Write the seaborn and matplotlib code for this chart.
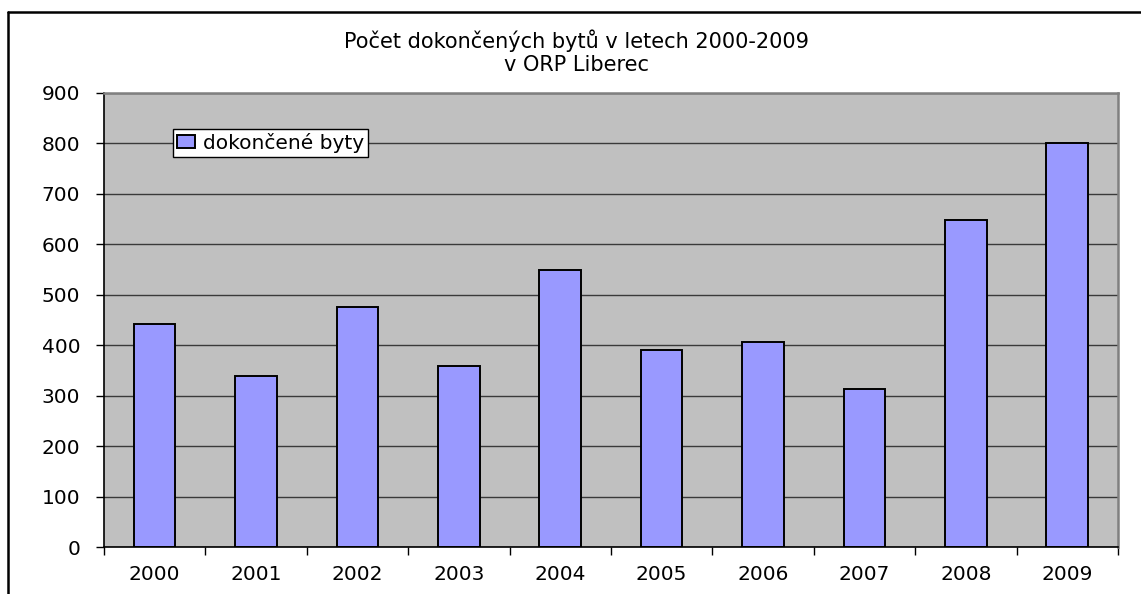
import matplotlib
matplotlib.use("Agg")
import matplotlib.pyplot as plt
import seaborn as sns
import pandas as pd
from matplotlib.lines import Line2D
from matplotlib.ticker import FixedLocator

# data
years = ["2000", "2001", "2002", "2003", "2004", "2005", "2006", "2007", "2008", "2009"]
completed = [441, 339, 476, 359, 549, 391, 406, 314, 648, 800]
series_name = "dokončené byty"
title = "Počet dokončených bytů v letech 2000-2009\nv ORP Liberec"
y_ticks = [0, 100, 200, 300, 400, 500, 600, 700, 800, 900]

df = pd.DataFrame({"rok": years, "pocet": completed})

sns.set_theme(style="white")
plt.rcParams["font.family"] = ["DejaVu Sans"]
plt.rcParams["text.color"] = "black"

fig = plt.figure(figsize=(11.41, 5.94), dpi=100)
fig.patch.set_facecolor("white")
ax = fig.add_axes([0.0911, 0.0791, 0.8887, 0.7648])
ax.set_facecolor("#C0C0C0")

sns.barplot(data=df, x="rok", y="pocet", color="#9999FF", saturation=1,
            edgecolor="black", linewidth=1.4, width=0.41, label=series_name, ax=ax)

ax.set_ylim(0, 900)
ax.set_xlim(-0.5, len(years) - 0.5)
ax.set_yticks(y_ticks)
ax.yaxis.grid(True, color="#3a3a3a", linewidth=1)
ax.set_axisbelow(True)

# x ticks sit between categories
ax.xaxis.set_minor_locator(FixedLocator([i - 0.5 for i in range(len(years) + 1)]))
ax.tick_params(axis="x", which="major", length=0, pad=13, labelsize=14.5, colors="black")
ax.tick_params(axis="x", which="minor", length=6, width=1, color="black", direction="out")
ax.tick_params(axis="y", length=6, width=1, color="black", direction="out", pad=11,
               labelsize=14.5, colors="black")
ax.tick_params(axis="both", which="both", bottom=True, left=True)

for side in ["top", "right"]:
    ax.spines[side].set_color("#808080")
    ax.spines[side].set_linewidth(1.8)
for side in ["left", "bottom"]:
    ax.spines[side].set_color("black")
    ax.spines[side].set_linewidth(1.2)
for side in ax.spines:
    ax.spines[side].set_visible(True)

ax.set_xlabel("")
ax.set_ylabel("")

leg = ax.legend(loc="upper left", bbox_to_anchor=(0.0677, 0.921), fontsize=14.5,
                frameon=True, fancybox=False, framealpha=1, borderpad=0.2,
                handlelength=0.9, handleheight=0.6, handletextpad=0.4,
                borderaxespad=0)
leg.get_frame().set_edgecolor("black")
leg.get_frame().set_linewidth(1)
leg.get_frame().set_facecolor("white")
for t in leg.get_texts():
    t.set_color("black")

fig.text(577 / 1141, 1 - 52 / 594, title, ha="center", va="center",
         fontsize=15, linespacing=1.2, color="black")

# outer chart frame (only left and top edges are visible in the picture)
fig.add_artist(Line2D([7.5 / 1141, 7.5 / 1141], [0, 1 - 12 / 594], color="black",
                      linewidth=1.8, transform=fig.transFigure))
fig.add_artist(Line2D([7.5 / 1141, 1], [1 - 12 / 594, 1 - 12 / 594], color="black",
                      linewidth=1.8, transform=fig.transFigure))

fig.savefig("out.png", dpi=100)
